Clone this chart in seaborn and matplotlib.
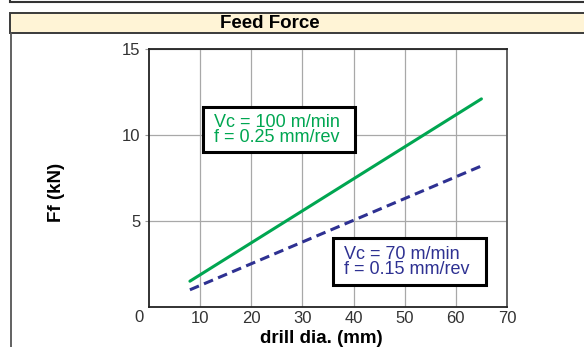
import matplotlib
matplotlib.use("Agg")
import matplotlib.pyplot as plt
import seaborn as sns
import pandas as pd
from matplotlib.patches import Rectangle
from matplotlib.lines import Line2D

# ---- data ----
series_names = ["Vc100", "Vc70"]
drill_dia = [8, 65]
ff_vc100 = [1.5, 12.1]
ff_vc70 = [1.0, 8.2]
x_ticks = [10, 20, 30, 40, 50, 60, 70]
y_ticks = [5, 10, 15]
title = "Feed Force"
x_label = "drill dia. (mm)"
y_label = "Ff (kN)"
label_vc100 = ["Vc = 100 m/min", "f = 0.25 mm/rev"]
label_vc70 = ["Vc = 70 m/min", "f = 0.15 mm/rev"]

GREEN = "#00A651"
BLUE = "#2E3192"

df = pd.DataFrame({
    "dia": drill_dia + drill_dia,
    "Ff": ff_vc100 + ff_vc70,
    "series": [series_names[0]] * len(drill_dia) + [series_names[1]] * len(drill_dia),
})

sns.set_theme(style="white")
plt.rcParams["font.family"] = ["Liberation Sans", "DejaVu Sans"]

W, H = 584, 347
fig = plt.figure(figsize=(W / 100, H / 100), dpi=100)


def fx(x):
    return x / W


def fy(y):
    return 1 - y / H


# ---- frame decorations (pixel coordinates) ----
fig.patches.append(Rectangle((fx(10), fy(2)), fx(600) - fx(10), fy(-20) - fy(2),
                             transform=fig.transFigure, facecolor="white",
                             edgecolor="#333333", lw=1.5, zorder=0))
fig.patches.append(Rectangle((fx(10), fy(33)), fx(600) - fx(10), fy(13) - fy(33),
                             transform=fig.transFigure, facecolor="#FFF4D6",
                             edgecolor="#3a3a3a", lw=1.4, zorder=0))
fig.lines.append(Line2D([fx(10.5), fx(10.5)], [fy(33), fy(360)],
                        transform=fig.transFigure, color="#555555", lw=1.3))
fig.text(fx(270), fy(23), title, ha="center", va="center",
         fontsize=13.5, fontweight="bold", color="black")

# ---- axes ----
ax = fig.add_axes([fx(149), fy(307), fx(507) - fx(149), fy(49) - fy(307)])
sns.lineplot(data=df, x="dia", y="Ff", hue="series", style="series",
             palette={series_names[0]: GREEN, series_names[1]: BLUE},
             dashes={series_names[0]: "", series_names[1]: (3.2, 1.8)},
             linewidth=2.2, legend=False, ax=ax, zorder=3)

ax.set_xlim(0, 70)
ax.set_ylim(0, 15)
ax.set_xticks(x_ticks)
ax.set_yticks(y_ticks)
ax.set_xticklabels([str(t) for t in x_ticks], fontsize=12, color="#333333")
ax.set_yticklabels([str(t) for t in y_ticks], fontsize=12, color="#333333")
ax.tick_params(axis="x", length=0, pad=3)
ax.tick_params(axis="y", length=3, width=0.8, color="#999999", pad=3, left=True)
ax.grid(True, color="#A8A8A8", lw=0.9)
for s in ax.spines.values():
    s.set_visible(True)
    s.set_color("#222222")
    s.set_linewidth(1.3)
ax.spines["right"].set_color("#555555")

ax.set_xlabel(x_label, fontsize=13.5, fontweight="bold", color="black")
ax.set_ylabel(y_label, fontsize=13.5, fontweight="bold", color="black")
ax.xaxis.set_label_coords((321 - 149) / 358, (307 - 330) / 258)
ax.yaxis.set_label_coords((65 - 149) / 358, (307 - 192) / 258)

# corner "0"
fig.text(fx(139), fy(318), "0", ha="center", va="center", fontsize=12, color="#333333")

# ---- annotation boxes ----
fig.patches.append(Rectangle((fx(203), fy(152)), fx(355) - fx(203), fy(107) - fy(152),
                             transform=fig.transFigure, facecolor="white",
                             edgecolor="black", lw=2.2, zorder=5))
fig.text(fx(214), fy(142), "\n".join(label_vc100), ha="left", va="baseline",
         fontsize=13, color=GREEN, linespacing=0.88, zorder=6)

fig.patches.append(Rectangle((fx(333), fy(285)), fx(486) - fx(333), fy(238) - fy(285),
                             transform=fig.transFigure, facecolor="white",
                             edgecolor="black", lw=2.2, zorder=5))
fig.text(fx(344), fy(274), "\n".join(label_vc70), ha="left", va="baseline",
         fontsize=13, color=BLUE, linespacing=0.88, zorder=6)

fig.savefig("out.png", dpi=100)
